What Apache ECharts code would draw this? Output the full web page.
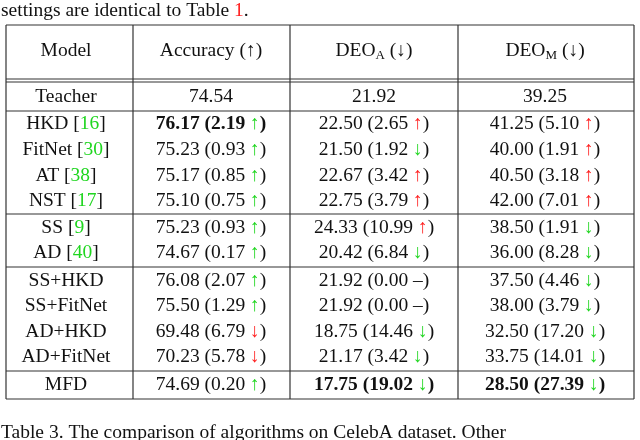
<!DOCTYPE html><html><head><meta charset="utf-8"><script src="https://cdn.jsdelivr.net/npm/echarts@6/dist/echarts.min.js"></script>
<style>body{margin:0;background:#fff}#c{width:640px;height:440px}</style></head><body><div id="c"></div><script>
const models=['Teacher','HKD [16]','FitNet [30]','AT [38]','NST [17]','SS [9]','AD [40]','SS+HKD','SS+FitNet','AD+HKD','AD+FitNet','MFD'];
const accuracy=['74.54','76.17 (2.19 ↑)','75.23 (0.93 ↑)','75.17 (0.85 ↑)','75.10 (0.75 ↑)','75.23 (0.93 ↑)','74.67 (0.17 ↑)','76.08 (2.07 ↑)','75.50 (1.29 ↑)','69.48 (6.79 ↓)','70.23 (5.78 ↓)','74.69 (0.20 ↑)'];
const deoA=['21.92','22.50 (2.65 ↑)','21.50 (1.92 ↓)','22.67 (3.42 ↑)','22.75 (3.79 ↑)','24.33 (10.99 ↑)','20.42 (6.84 ↓)','21.92 (0.00 –)','21.92 (0.00 –)','18.75 (14.46 ↓)','21.17 (3.42 ↓)','17.75 (19.02 ↓)'];
const deoM=['39.25','41.25 (5.10 ↑)','40.00 (1.91 ↑)','40.50 (3.18 ↑)','42.00 (7.01 ↑)','38.50 (1.91 ↓)','36.00 (8.28 ↓)','37.50 (4.46 ↓)','38.00 (3.79 ↓)','32.50 (17.20 ↓)','33.75 (14.01 ↓)','28.50 (27.39 ↓)'];
const boldCells={'1-1':1,'11-2':1,'11-3':1};
const rowY=[97,124,150,176,201,228,253,281,306,332,357,385];
const colX=[66,211,374,545];
const vLines=[6,133,290,458,634];
const F='"Liberation Serif","DejaVu Serif",serif';
const S=19.5;
function cellText(s,good){
  const m=s.match(/^(.*?)([↑↓])(\).*)$/);
  if(!m) return '{n|'+s+'}';
  const up=m[2]==='↑';
  const col=(good==='up')===up?'g':'r';
  return '{n|'+m[1]+'}{'+col+'|'+m[2]+'}{n|'+m[3]+'}';
}
function modelText(s){const m=s.match(/^(.*\[)(\d+)(\])$/);return m?'{n|'+m[1]+'}{g|'+m[2]+'}{n|'+m[3]+'}':'{n|'+s+'}';}
function rich(bold){const w=bold?'bold':'normal';return{n:{fontFamily:F,fontSize:S,fontWeight:w,fill:'#111'},g:{fontFamily:F,fontSize:S,fontWeight:w,fill:'#1fd61f'},r:{fontFamily:F,fontSize:S,fontWeight:w,fill:'#ff2020'},sub:{fontFamily:F,fontSize:13,fill:'#111',padding:[10,0,0,0]}};}
const els=[];
function txt(x,y,t,bold){els.push({type:'text',x:x,y:y,style:{text:t,rich:rich(bold),align:'center',verticalAlign:'middle'}});}
function line(x1,y1,x2,y2){els.push({type:'line',shape:{x1,y1,x2,y2},style:{stroke:'#333',lineWidth:1.2}});}
els.push({type:'text',x:1,y:11,style:{text:'{n|settings are identical to Table }{r|1}{n|.}',rich:rich(false),verticalAlign:'middle'}});
els.push({type:'text',x:1,y:433,style:{text:'{n|Table 3. The comparison of algorithms on CelebA dataset. Other}',rich:rich(false),verticalAlign:'middle'}});
txt(colX[0],51,'{n|Model}');txt(colX[1],51,'{n|Accuracy (↑)}');
txt(colX[2],51,'{n|DEO}{sub|A}{n| (↓)}');txt(colX[3],51,'{n|DEO}{sub|M}{n| (↓)}');
models.forEach((m,i)=>{txt(colX[0],rowY[i],modelText(m));
 txt(colX[1],rowY[i],cellText(accuracy[i],'up'),boldCells[i+'-1']);
 txt(colX[2],rowY[i],cellText(deoA[i],'down'),boldCells[i+'-2']);
 txt(colX[3],rowY[i],cellText(deoM[i],'down'),boldCells[i+'-3']);});
[25,79,82,111,214,267,371,399].forEach(y=>line(vLines[0],y,vLines[4],y));
vLines.forEach(x=>line(x,25,x,399));
const ch=echarts.init(document.getElementById('c'));
ch.setOption({animation:false,graphic:{elements:els}});
</script></body></html>
